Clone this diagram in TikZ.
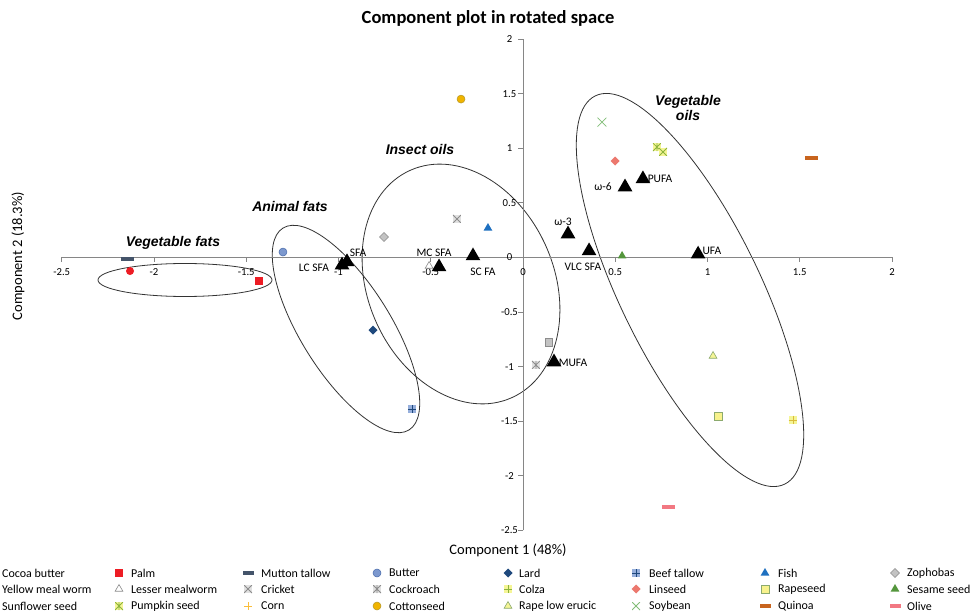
\documentclass[tikz,border=0pt]{standalone}
\usepackage{fontspec}
\setmainfont{Carlito}
\newfontfamily\grpfont{Liberation Sans}
\usetikzlibrary{shapes.geometric,positioning}

\definecolor{axisgray}{RGB}{134,134,134}
\definecolor{palmred}{RGB}{237,28,36}
\definecolor{muttonblue}{RGB}{68,84,106}
\definecolor{butterfill}{RGB}{124,152,206}
\definecolor{butterline}{RGB}{70,105,170}
\definecolor{lardblue}{RGB}{31,73,125}
\definecolor{beeffill}{RGB}{150,175,220}
\definecolor{fishblue}{RGB}{30,112,192}
\definecolor{greyline}{RGB}{140,140,140}
\definecolor{greyfill}{RGB}{195,195,195}
\definecolor{greylight}{RGB}{225,225,225}
\definecolor{paleyellow}{RGB}{245,245,150}
\definecolor{leafgreen}{RGB}{140,180,60}
\definecolor{linseedred}{RGB}{236,120,110}
\definecolor{rapefill}{RGB}{248,242,140}
\definecolor{rapeline}{RGB}{140,170,110}
\definecolor{sesamegreen}{RGB}{84,150,60}
\definecolor{cornorange}{RGB}{250,190,60}
\definecolor{cottongold}{RGB}{240,180,0}
\definecolor{cottonline}{RGB}{180,150,40}
\definecolor{soygreen}{RGB}{130,190,120}
\definecolor{quinoaorange}{RGB}{200,100,30}
\definecolor{olivepink}{RGB}{242,120,130}

\begin{document}
\begin{tikzpicture}[x=1pt, y=-1pt,
  mk/.style={inner sep=0pt, outer sep=0pt},
  dotmk/.style={mk, circle, minimum size=8pt},
  sqmk/.style={mk, rectangle, minimum size=7.5pt},
  dmdmk/.style={mk, diamond, minimum size=9pt},
  trimk/.style={mk, regular polygon, regular polygon sides=3, minimum size=10pt},
  barmk/.style={mk, rectangle, minimum width=13pt, minimum height=3.5pt},
  xmk/.style={mk, rectangle, minimum size=8pt, path picture={\draw[#1, line width=0.8pt] (path picture bounding box.south west) -- (path picture bounding box.north east) (path picture bounding box.north west) -- (path picture bounding box.south east);}},
  pmk/.style={mk, rectangle, minimum size=8pt, path picture={\draw[#1, line width=0.8pt] (path picture bounding box.west) -- (path picture bounding box.east) (path picture bounding box.north) -- (path picture bounding box.south);}},
  amk/.style={mk, rectangle, minimum size=8pt, path picture={\draw[#1, line width=0.8pt] (path picture bounding box.south west) -- (path picture bounding box.north east) (path picture bounding box.north west) -- (path picture bounding box.south east) (path picture bounding box.north) -- (path picture bounding box.south);}},
  fatri/.style={regular polygon, regular polygon sides=3, fill=black, inner sep=0pt, minimum size=17pt},
  falbl/.style={font=\fontsize{11.5}{12}\selectfont, inner sep=0pt},
  grp/.style={font=\grpfont\fontsize{14}{14.5}\selectfont\bfseries\itshape, inner sep=0pt, align=center},
  ticklbl/.style={font=\fontsize{10.7}{11}\selectfont, inner sep=0pt},
  lgd/.style={font=\fontsize{12}{13}\selectfont, anchor=west, inner sep=0pt},
  ring/.style={draw=black!80, line width=0.8pt},
  axisline/.style={draw=axisgray, line width=0.9pt}]

\useasboundingbox[fill=white] (0,0) rectangle (972,612);

% titles
\node (title) [font=\fontsize{18.5}{20}\selectfont\bfseries] at (488,18) {Component plot in rotated space};
\node (xtitle) [font=\fontsize{14.5}{16}\selectfont] at (508,550) {Component 1 (48\%)};
\node (ytitle) [font=\fontsize{14.5}{16}\selectfont, rotate=90] at (18,256) {Component 2 (18.3\%)};

% group ellipses
\draw[ring] (185,280) ellipse [x radius=87, y radius=16.5];
\draw[ring, rotate around={-58:(346,329)}] (346,329) ellipse [x radius=119, y radius=45];
\draw[ring, rotate around={-66:(461,284)}] (461,284) ellipse [x radius=124.5, y radius=93];
\draw[ring, rotate around={-64:(690,290)}] (690,290) ellipse [x radius=216, y radius=70];

\node (vegfats) [grp] at (173,243) {Vegetable fats};
\node (animfats) [grp] at (290,206) {Animal fats};
\node (insoils) [grp] at (420,149) {Insect oils};
\node (vegoils) [grp] at (688,108) {Vegetable\\oils};

\begin{scope}[xshift=523pt, yshift=-257.5pt, x=184.5pt, y=109.1pt]
% axes
\draw[axisline] (-2.5,0) -- (2,0);
\draw[axisline] (0,-2.5) -- (0,2);
\foreach \v in {-2.5,-2,-1.5,-1,-0.5,0,0.5,1,1.5,2} {
  \draw[axisline] (\v,0) -- ++(0pt,-4.5pt);
  \node[ticklbl] at (\v,0) [yshift=-14.5pt] {\v};
  \draw[axisline] (0,\v) -- ++(-5pt,0pt);
  \node[ticklbl] at (0,\v) [xshift=-13.5pt] {\v};
}

% samples
\node (cocoa) [dotmk, fill=palmred] at (-2.13,-0.124) {};
\node (palm) [sqmk, fill=palmred] at (-1.431,-0.215) {};
\node (mutton) [barmk, fill=muttonblue] at (-2.141,-0.014) {};
\node (butter) [dotmk, fill=butterfill, draw=butterline, line width=0.5pt] at (-1.301,0.05) {};
\node (lard) [dmdmk, fill=lardblue] at (-0.813,-0.665) {};
\node (beef) [pmk=lardblue, fill=beeffill] at (-0.602,-1.388) {};
\node (fish) [trimk, fill=fishblue] at (-0.19,0.27) {};
\node (zophobas) [dmdmk, fill=greyfill, draw=greyline, line width=0.5pt] at (-0.753,0.188) {};
\node (ymworm) [sqmk, fill=greyfill, draw=greyline, line width=0.6pt] at (0.141,-0.775) {};
\node (lmworm) [trimk, draw=greyline, fill=white, line width=0.6pt, minimum size=9pt] at (-0.509,-0.078) {};
\node (cricket) [xmk=greyline, fill=greylight] at (-0.358,0.353) {};
\node (cockroach) [amk=greyline, fill=greylight] at (0.07,-0.985) {};
\node (cotton) [dotmk, fill=cottongold, draw=cottonline, line width=0.5pt] at (-0.336,1.452) {};
\node (linseed) [dmdmk, fill=linseedred] at (0.499,0.884) {};
\node (soybean) [xmk=soygreen, minimum size=9pt] at (0.428,1.241) {};
\node (pumpkin) [amk=leafgreen, fill=paleyellow] at (0.726,1.012) {};
\node (sunflower) [xmk=leafgreen, fill=paleyellow] at (0.759,0.967) {};
\node (sesame) [trimk, fill=sesamegreen] at (0.537,0.014) {};
\node (quinoa) [barmk, fill=quinoaorange] at (1.561,0.912) {};
\node (ralow) [trimk, fill=paleyellow, draw=rapeline, line width=0.6pt, minimum size=9pt] at (1.03,-0.903) {};
\node (rapeseed) [sqmk, fill=rapefill, draw=rapeline, line width=0.6pt, minimum size=8pt] at (1.057,-1.453) {};
\node (colza) [pmk=leafgreen, fill=paleyellow] at (1.463,-1.489) {};
\node (corn) [pmk=cornorange!70!leafgreen] at (1.463,-1.489) {};
\node (olive) [barmk, fill=olivepink] at (0.786,-2.287) {};

% fatty acids
\node (lcsfa) [fatri] at (-0.981,-0.07) {};
\node (sfa) [fatri] at (-0.954,-0.04) {};
\node (mcsfa) [fatri] at (-0.455,-0.087) {};
\node (scfa) [fatri] at (-0.271,0.014) {};
\node (vlcsfa) [fatri] at (0.358,0.06) {};
\node (omega3) [fatri] at (0.244,0.215) {};
\node (omega6) [fatri] at (0.553,0.646) {};
\node (pufa) [fatri] at (0.65,0.72) {};
\node (ufa) [fatri] at (0.949,0.03) {};
\node (mufa) [fatri] at (0.168,-0.958) {};

\node (sfalbl) [falbl] at (-0.894,0.041) {SFA};
\node (lcsfalbl) [falbl] at (-1.133,-0.096) {LC SFA};
\node (mcsfalbl) [falbl] at (-0.482,0.041) {MC SFA};
\node (scfalbl) [falbl] at (-0.217,-0.133) {SC FA};
\node (vlcsfalbl) [falbl] at (0.325,-0.087) {VLC SFA};
\node (omega3lbl) [falbl] at (0.217,0.325) {ω-3};
\node (omega6lbl) [falbl] at (0.434,0.646) {ω-6};
\node (pufalbl) [falbl] at (0.743,0.72) {PUFA};
\node (ufalbl) [falbl] at (1.024,0.06) {UFA};
\node (mufalbl) [falbl] at (0.271,-0.967) {MUFA};
\end{scope}

% legend
\node (lgcocoa) [lgd] at (2,573) {Cocoa butter};
\node (lgpalmmk) [sqmk, fill=palmred] at (119,573) {};
\node (lgpalm) [lgd] at (131,573) {Palm};
\node (lgmuttonmk) [barmk, fill=muttonblue, minimum width=11pt] at (248,573) {};
\node (lgmutton) [lgd] at (261,573) {Mutton tallow};
\node (lgbuttermk) [dotmk, fill=butterfill, draw=butterline, line width=0.5pt] at (377,573) {};
\node (lgbutter) [lgd] at (389,573) {Butter};
\node (lglardmk) [dmdmk, fill=lardblue] at (508,573) {};
\node (lglard) [lgd] at (519,573) {Lard};
\node (lgbeefmk) [pmk=lardblue, fill=beeffill] at (636,573) {};
\node (lgbeef) [lgd] at (649,573) {Beef tallow};
\node (lgfishmk) [trimk, fill=fishblue] at (765,573) {};
\node (lgfish) [lgd] at (778,573) {Fish};
\node (lgzophmk) [dmdmk, fill=greyfill, draw=greyline, line width=0.5pt] at (895,573) {};
\node (lgzoph) [lgd] at (907,573) {Zophobas};

\node (lgymworm) [lgd] at (2,589) {Yellow meal worm};
\node (lglmwormmk) [trimk, draw=greyline, fill=white, line width=0.6pt, minimum size=9pt] at (119,589) {};
\node (lglmworm) [lgd] at (131,589) {Lesser mealworm};
\node (lgcricketmk) [xmk=greyline, fill=greylight] at (248,589) {};
\node (lgcricket) [lgd] at (261,589) {Cricket};
\node (lgcockroachmk) [amk=greyline, fill=greylight] at (377,589) {};
\node (lgcockroach) [lgd] at (389,589) {Cockroach};
\node (lgcolzamk) [pmk=leafgreen, fill=paleyellow] at (508,589) {};
\node (lgcolza) [lgd] at (519,589) {Colza};
\node (lglinseedmk) [dmdmk, fill=linseedred] at (636,589) {};
\node (lglinseed) [lgd] at (649,589) {Linseed};
\node (lgrapeseedmk) [sqmk, fill=rapefill, draw=rapeline, line width=0.6pt, minimum size=8pt] at (765,589) {};
\node (lgrapeseed) [lgd] at (778,589) {Rapeseed};
\node (lgsesamemk) [trimk, fill=sesamegreen] at (895,589) {};
\node (lgsesame) [lgd] at (907,589) {Sesame seed};

\node (lgsunflower) [lgd] at (2,606) {Sunflower seed};
\node (lgpumpkinmk) [amk=leafgreen, fill=paleyellow] at (119,606) {};
\node (lgpumpkin) [lgd] at (131,606) {Pumpkin seed};
\node (lgcornmk) [pmk=cornorange] at (248,606) {};
\node (lgcorn) [lgd] at (261,606) {Corn};
\node (lgcottonmk) [dotmk, fill=cottongold, draw=cottonline, line width=0.5pt] at (377,606) {};
\node (lgcotton) [lgd] at (389,606) {Cottonseed};
\node (lgralowmk) [trimk, fill=paleyellow, draw=rapeline, line width=0.6pt, minimum size=9pt] at (508,606) {};
\node (lgralow) [lgd] at (519,606) {Rape low erucic};
\node (lgsoybeanmk) [xmk=soygreen] at (636,606) {};
\node (lgsoybean) [lgd] at (649,606) {Soybean};
\node (lgquinoamk) [barmk, fill=quinoaorange, minimum width=11pt] at (765,606) {};
\node (lgquinoa) [lgd] at (778,606) {Quinoa};
\node (lgolivemk) [barmk, fill=olivepink, minimum width=11pt] at (895,606) {};
\node (lgolive) [lgd] at (907,606) {Olive};
\end{tikzpicture}
\end{document}
